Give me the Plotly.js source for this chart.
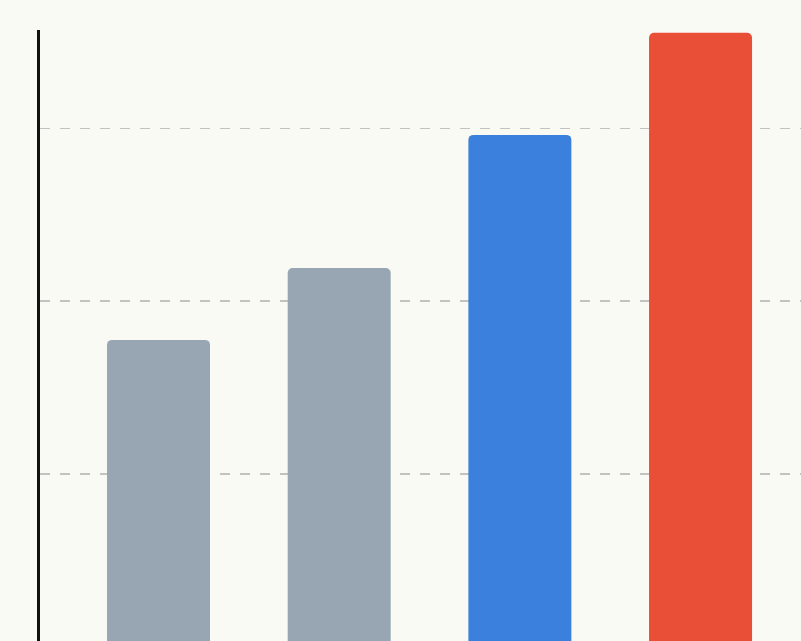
<!DOCTYPE html>
<html>
<head>
<meta charset="utf-8">
<script src="https://cdn.plot.ly/plotly-3.0.1.min.js"></script>
<style>html,body{margin:0;padding:0;background:#fafaf5;}#chart{width:801px;height:641px;}</style>
</head>
<body>
<div id="chart"></div>
<script>
var categories = ["A", "B", "C", "D"];
var values = [44.4, 54.8, 74.1, 88.9];
var barColors = ["#97a6b2", "#97a6b2", "#3a80dc", "#e94e37"];
var gridValues = [25, 50, 75];

var trace = {
  type: "bar",
  x: categories,
  y: values,
  width: 0.57,
  marker: { color: barColors, cornerradius: 5, line: { width: 0 } },
  hoverinfo: "none"
};

var layout = {
  width: 801,
  height: 641,
  margin: { l: 40, r: 0, t: 30, b: 0, pad: 0 },
  paper_bgcolor: "#fafaf5",
  plot_bgcolor: "#fafaf5",
  showlegend: false,
  xaxis: {
    type: "category",
    range: [-0.656, 3.556],
    showticklabels: false,
    showgrid: false,
    zeroline: false,
    showline: false,
    ticks: ""
  },
  yaxis: {
    range: [0.77, 89.3],
    tickvals: gridValues,
    showticklabels: false,
    showgrid: true,
    gridcolor: "#c2c3c1",
    gridwidth: 1.5,
    griddash: "10px,10px",
    zeroline: false,
    showline: true,
    linecolor: "#111111",
    linewidth: 3,
    ticks: ""
  }
};

Plotly.newPlot("chart", [trace], layout, { staticPlot: true, displayModeBar: false });
</script>
</body>
</html>
